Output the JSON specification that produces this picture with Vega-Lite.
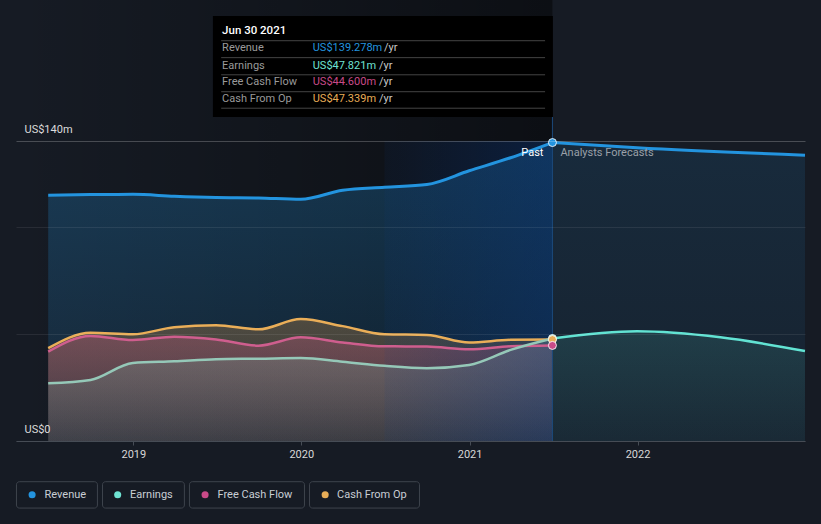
{
  "$schema": "https://vega.github.io/schema/vega-lite/v6.json",
  "width": 789,
  "height": 300,
  "autosize": {"type": "none"},
  "padding": {"left": 16, "top": 141, "right": 16, "bottom": 83},
  "background": "#161b24",
  "config": {"view": {"stroke": null}, "font": "Roboto"},
  "datasets": {
    "s": [
      {"date": "2018-06-30", "series": "Revenue", "phase": "past", "value": 114.7},
      {"date": "2018-09-30", "series": "Revenue", "phase": "past", "value": 115.0},
      {"date": "2018-12-31", "series": "Revenue", "phase": "past", "value": 115.1},
      {"date": "2019-03-31", "series": "Revenue", "phase": "past", "value": 114.2},
      {"date": "2019-06-30", "series": "Revenue", "phase": "past", "value": 113.6},
      {"date": "2019-09-30", "series": "Revenue", "phase": "past", "value": 113.4},
      {"date": "2019-12-31", "series": "Revenue", "phase": "past", "value": 112.8},
      {"date": "2020-03-31", "series": "Revenue", "phase": "past", "value": 117.0},
      {"date": "2020-06-30", "series": "Revenue", "phase": "past", "value": 118.4},
      {"date": "2020-09-30", "series": "Revenue", "phase": "past", "value": 119.7},
      {"date": "2020-12-31", "series": "Revenue", "phase": "past", "value": 126.1},
      {"date": "2021-03-31", "series": "Revenue", "phase": "past", "value": 132.2},
      {"date": "2021-06-30", "series": "Revenue", "phase": "past", "value": 139.278},
      {"date": "2021-06-30", "series": "Revenue", "phase": "forecast", "value": 139.278},
      {"date": "2021-12-31", "series": "Revenue", "phase": "forecast", "value": 136.9},
      {"date": "2022-12-31", "series": "Revenue", "phase": "forecast", "value": 133.4},
      {"date": "2018-06-30", "series": "Earnings", "phase": "past", "value": 26.9},
      {"date": "2018-09-30", "series": "Earnings", "phase": "past", "value": 28.5},
      {"date": "2018-12-31", "series": "Earnings", "phase": "past", "value": 36.4},
      {"date": "2019-03-31", "series": "Earnings", "phase": "past", "value": 37.2},
      {"date": "2019-06-30", "series": "Earnings", "phase": "past", "value": 38.2},
      {"date": "2019-09-30", "series": "Earnings", "phase": "past", "value": 38.4},
      {"date": "2019-12-31", "series": "Earnings", "phase": "past", "value": 38.7},
      {"date": "2020-03-31", "series": "Earnings", "phase": "past", "value": 37.0},
      {"date": "2020-06-30", "series": "Earnings", "phase": "past", "value": 35.1},
      {"date": "2020-09-30", "series": "Earnings", "phase": "past", "value": 34.0},
      {"date": "2020-12-31", "series": "Earnings", "phase": "past", "value": 35.5},
      {"date": "2021-03-31", "series": "Earnings", "phase": "past", "value": 42.5},
      {"date": "2021-06-30", "series": "Earnings", "phase": "past", "value": 47.821},
      {"date": "2021-06-30", "series": "Earnings", "phase": "forecast", "value": 47.821},
      {"date": "2021-12-31", "series": "Earnings", "phase": "forecast", "value": 51.2},
      {"date": "2022-06-30", "series": "Earnings", "phase": "forecast", "value": 48.4},
      {"date": "2022-12-31", "series": "Earnings", "phase": "forecast", "value": 42.0},
      {"date": "2018-06-30", "series": "Cash From Op", "phase": "past", "value": 43.3},
      {"date": "2018-09-30", "series": "Cash From Op", "phase": "past", "value": 50.5},
      {"date": "2018-12-31", "series": "Cash From Op", "phase": "past", "value": 49.8},
      {"date": "2019-03-31", "series": "Cash From Op", "phase": "past", "value": 53.1},
      {"date": "2019-06-30", "series": "Cash From Op", "phase": "past", "value": 54.0},
      {"date": "2019-09-30", "series": "Cash From Op", "phase": "past", "value": 52.1},
      {"date": "2019-12-31", "series": "Cash From Op", "phase": "past", "value": 56.9},
      {"date": "2020-03-31", "series": "Cash From Op", "phase": "past", "value": 53.6},
      {"date": "2020-06-30", "series": "Cash From Op", "phase": "past", "value": 49.8},
      {"date": "2020-09-30", "series": "Cash From Op", "phase": "past", "value": 49.5},
      {"date": "2020-12-31", "series": "Cash From Op", "phase": "past", "value": 46.0},
      {"date": "2021-03-31", "series": "Cash From Op", "phase": "past", "value": 47.2},
      {"date": "2021-06-30", "series": "Cash From Op", "phase": "past", "value": 47.339},
      {"date": "2018-06-30", "series": "Free Cash Flow", "phase": "past", "value": 41.7},
      {"date": "2018-09-30", "series": "Free Cash Flow", "phase": "past", "value": 49.0},
      {"date": "2018-12-31", "series": "Free Cash Flow", "phase": "past", "value": 47.1},
      {"date": "2019-03-31", "series": "Free Cash Flow", "phase": "past", "value": 48.7},
      {"date": "2019-06-30", "series": "Free Cash Flow", "phase": "past", "value": 47.4},
      {"date": "2019-09-30", "series": "Free Cash Flow", "phase": "past", "value": 44.5},
      {"date": "2019-12-31", "series": "Free Cash Flow", "phase": "past", "value": 48.4},
      {"date": "2020-03-31", "series": "Free Cash Flow", "phase": "past", "value": 46.0},
      {"date": "2020-06-30", "series": "Free Cash Flow", "phase": "past", "value": 44.2},
      {"date": "2020-09-30", "series": "Free Cash Flow", "phase": "past", "value": 44.1},
      {"date": "2020-12-31", "series": "Free Cash Flow", "phase": "past", "value": 42.8},
      {"date": "2021-03-31", "series": "Free Cash Flow", "phase": "past", "value": 44.2},
      {"date": "2021-06-30", "series": "Free Cash Flow", "phase": "past", "value": 44.6}
    ],
    "tt": [
      {"series": "Revenue", "label": "Revenue", "val": "US$139.278m", "date": "2019-07-13", "vdate": "2020-01-26", "ydate": "2020-06-29", "value": 183.4},
      {"series": "Earnings", "label": "Earnings", "val": "US$47.821m", "date": "2019-07-13", "vdate": "2020-01-26", "ydate": "2020-06-18", "value": 175.2},
      {"series": "Free Cash Flow", "label": "Free Cash Flow", "val": "US$44.600m", "date": "2019-07-13", "vdate": "2020-01-26", "ydate": "2020-06-18", "value": 167.4},
      {"series": "Cash From Op", "label": "Cash From Op", "val": "US$47.339m", "date": "2019-07-13", "vdate": "2020-01-26", "ydate": "2020-06-18", "value": 159.5}
    ],
    "sep": [
      {"date": "2019-07-11", "date2": "2021-06-14", "value": 186.8},
      {"date": "2019-07-11", "date2": "2021-06-14", "value": 178.9},
      {"date": "2019-07-11", "date2": "2021-06-14", "value": 170.9},
      {"date": "2019-07-11", "date2": "2021-06-14", "value": 163.0},
      {"date": "2019-07-11", "date2": "2021-06-14", "value": 155.3}
    ],
    "notes": [
      {"t": "Past", "date": "2021-06-30", "value": 134.4},
      {"t": "Analysts Forecasts", "date": "2021-06-30", "value": 134.4},
      {"t": "Jun 30 2021", "date": "2019-07-13", "value": 191.5}
    ],
    "leg": [
      {"series": "Revenue", "date": "2018-04-22", "date2": "2018-10-15", "sym": "2018-05-26", "lab": "2018-06-22", "value": -19.0, "value2": -31.3, "mid": -25.1},
      {"series": "Earnings", "date": "2018-10-26", "date2": "2019-04-22", "sym": "2018-11-28", "lab": "2018-12-25", "value": -19.0, "value2": -31.3, "mid": -25.1},
      {"series": "Free Cash Flow", "date": "2019-05-03", "date2": "2020-01-08", "sym": "2019-06-06", "lab": "2019-07-03", "value": -19.0, "value2": -31.3, "mid": -25.1},
      {"series": "Cash From Op", "date": "2020-01-19", "date2": "2020-09-14", "sym": "2020-02-22", "lab": "2020-03-19", "value": -19.0, "value2": -31.3, "mid": -25.1}
    ]
  },
  "encoding": {
    "x": {
      "field": "date", "type": "temporal",
      "scale": {"type": "utc", "domain": [{"year": 2018, "month": 4, "date": 21, "utc": true}, {"year": 2022, "month": 12, "date": 31, "utc": true}]},
      "axis": {
        "values": [{"year": 2019, "month": 1, "date": 1, "utc": true}, {"year": 2020, "month": 1, "date": 1, "utc": true}, {"year": 2021, "month": 1, "date": 1, "utc": true}, {"year": 2022, "month": 1, "date": 1, "utc": true}],
        "format": "%Y", "title": null, "grid": false,
        "domainColor": "#464c55", "tickColor": "#464c55", "tickSize": 4,
        "labelColor": "#d8d8d8", "labelFontSize": 11, "labelPadding": 3, "labelFont": "Roboto", "zindex": 1
      }
    },
    "y": {
      "field": "value", "type": "quantitative",
      "scale": {"domain": [0, 140], "nice": false, "zero": false},
      "axis": {
        "values": [0, 50, 100, 140], "title": null, "grid": true,
        "gridColor": "#ffffff",
        "gridOpacity": {"condition": {"test": "datum.value === 140", "value": 0.22}, "value": 0.08},
        "domain": false, "ticks": false, "tickSize": 0,
        "labelAlign": "left", "labelBaseline": "middle", "labelPadding": -8, "labelOffset": -12,
        "labelExpr": "datum.value === 140 ? 'US$140m' : (datum.value === 0 ? 'US$0' : '')",
        "labelColor": "#dcdcdc", "labelFontSize": 11, "labelFont": "Roboto", "zindex": 1
      }
    }
  },
  "layer": [
    {
      "data": {"values": [{"date": "2018-04-21", "date2": "2021-06-30", "value": 0, "value2": 215}]},
      "mark": {"type": "rect", "color": {"gradient": "linear", "x1": 0, "y1": 0, "x2": 1, "y2": 0, "stops": [{"offset": 0, "color": "rgba(0,0,0,0)"}, {"offset": 1, "color": "rgba(0,0,0,0.45)"}]}},
      "encoding": {"x2": {"field": "date2"}, "y2": {"field": "value2"}}
    },
    {
      "data": {"name": "s"},
      "transform": [{"filter": "datum.series === 'Revenue' && datum.phase === 'past'"}],
      "mark": {"type": "area", "interpolate": "monotone", "color": {"gradient": "linear", "x1": 0, "y1": 0, "x2": 0, "y2": 1, "stops": [{"offset": 0, "color": "rgba(35,148,223,0.27)"}, {"offset": 1, "color": "rgba(35,148,223,0.10)"}]}}
    },
    {
      "data": {"name": "s"},
      "transform": [{"filter": "datum.series === 'Revenue' && datum.phase === 'forecast'"}],
      "mark": {"type": "area", "interpolate": "monotone", "color": {"gradient": "linear", "x1": 0, "y1": 0, "x2": 0, "y2": 1, "stops": [{"offset": 0, "color": "rgba(35,148,223,0.13)"}, {"offset": 1, "color": "rgba(35,148,223,0.06)"}]}}
    },
    {
      "data": {"name": "s"},
      "transform": [{"filter": "datum.series === 'Cash From Op'"}],
      "mark": {"type": "area", "interpolate": "monotone", "color": {"gradient": "linear", "x1": 0, "y1": 0, "x2": 0, "y2": 1, "stops": [{"offset": 0, "color": "rgba(200,140,70,0.33)"}, {"offset": 1, "color": "rgba(200,140,70,0.10)"}]}}
    },
    {
      "data": {"name": "s"},
      "transform": [{"filter": "datum.series === 'Free Cash Flow'"}],
      "mark": {"type": "area", "interpolate": "monotone", "color": {"gradient": "linear", "x1": 0, "y1": 0, "x2": 0, "y2": 1, "stops": [{"offset": 0, "color": "rgba(190,85,125,0.33)"}, {"offset": 1, "color": "rgba(190,85,125,0.10)"}]}}
    },
    {
      "data": {"name": "s"},
      "transform": [{"filter": "datum.series === 'Earnings' && datum.phase === 'past'"}],
      "mark": {"type": "area", "interpolate": "monotone", "color": {"gradient": "linear", "x1": 0, "y1": 0, "x2": 0, "y2": 1, "stops": [{"offset": 0, "color": "rgba(125,170,160,0.30)"}, {"offset": 1, "color": "rgba(125,170,160,0.10)"}]}}
    },
    {
      "data": {"name": "s"},
      "transform": [{"filter": "datum.series === 'Earnings' && datum.phase === 'forecast'"}],
      "mark": {"type": "area", "interpolate": "monotone", "color": {"gradient": "linear", "x1": 0, "y1": 0, "x2": 0, "y2": 1, "stops": [{"offset": 0, "color": "rgba(95,227,210,0.13)"}, {"offset": 1, "color": "rgba(95,227,210,0.04)"}]}}
    },
    {
      "data": {"values": [{"date": "2020-06-30", "date2": "2021-06-30", "value": 0, "value2": 140}]},
      "mark": {"type": "rect", "color": {"gradient": "linear", "x1": 0, "y1": 0, "x2": 1, "y2": 0, "stops": [{"offset": 0, "color": "rgba(10,60,140,0.08)"}, {"offset": 1, "color": "rgba(10,60,140,0.35)"}]}},
      "encoding": {"x2": {"field": "date2"}, "y2": {"field": "value2"}}
    },
    {
      "data": {"values": [{"date": "2021-06-30", "value": 0, "value2": 151.2}]},
      "mark": {"type": "rule", "color": "#1c4a7c", "strokeWidth": 1},
      "encoding": {"y2": {"field": "value2"}}
    },
    {
      "data": {"name": "s"},
      "transform": [{"filter": "datum.series === 'Cash From Op'"}],
      "mark": {"type": "line", "interpolate": "monotone", "color": "#eaae58", "strokeWidth": 2.5}
    },
    {
      "data": {"name": "s"},
      "transform": [{"filter": "datum.series === 'Free Cash Flow'"}],
      "mark": {"type": "line", "interpolate": "monotone", "color": "#cf5e8e", "strokeWidth": 2.5}
    },
    {
      "data": {"name": "s"},
      "transform": [{"filter": "datum.series === 'Earnings' && datum.phase === 'past'"}],
      "mark": {"type": "line", "interpolate": "monotone", "color": "#95c8b8", "strokeWidth": 2.5}
    },
    {
      "data": {"name": "s"},
      "transform": [{"filter": "datum.series === 'Earnings' && datum.phase === 'forecast'"}],
      "mark": {"type": "line", "interpolate": "monotone", "color": "#62e3d3", "strokeWidth": 2.5}
    },
    {
      "data": {"name": "s"},
      "transform": [{"filter": "datum.series === 'Revenue'"}],
      "mark": {"type": "line", "interpolate": "monotone", "color": "#2394df", "strokeWidth": 3},
      "encoding": {"detail": {"field": "phase"}}
    },
    {
      "data": {"name": "s"},
      "transform": [{"filter": "datum.phase === 'past' && utcyear(datum.date) === 2021 && utcmonth(datum.date) === 5 && utcdate(datum.date) === 30"}],
      "mark": {"type": "point", "filled": true, "size": 64, "stroke": "#ffffff", "strokeWidth": 1, "strokeOpacity": 0.85, "opacity": 1},
      "encoding": {
        "color": {"field": "series", "type": "nominal", "scale": {"domain": ["Revenue", "Earnings", "Free Cash Flow", "Cash From Op"], "range": ["#2394df", "#6fe3d3", "#c94a88", "#e8ad57"]}, "legend": null}
      }
    },
    {
      "data": {"name": "notes"},
      "transform": [{"filter": "datum.t === 'Past'"}],
      "mark": {"type": "text", "align": "right", "baseline": "middle", "dx": -9, "fontSize": 11, "color": "#ffffff", "font": "Roboto"},
      "encoding": {"text": {"field": "t"}}
    },
    {
      "data": {"name": "notes"},
      "transform": [{"filter": "datum.t === 'Analysts Forecasts'"}],
      "mark": {"type": "text", "align": "left", "baseline": "middle", "dx": 8, "fontSize": 11, "color": "#9aa0a8", "font": "Roboto"},
      "encoding": {"text": {"field": "t"}}
    },
    {
      "data": {"values": [{"date": "2019-06-23", "date2": "2021-07-01", "value": 151.2, "value2": 198.3}]},
      "mark": {"type": "rect", "color": "#000000"},
      "encoding": {"x2": {"field": "date2"}, "y2": {"field": "value2"}}
    },
    {
      "data": {"name": "sep"},
      "mark": {"type": "rule", "color": "#444444", "strokeWidth": 1},
      "encoding": {"x2": {"field": "date2"}}
    },
    {
      "data": {"name": "notes"},
      "transform": [{"filter": "datum.t === 'Jun 30 2021'"}],
      "mark": {"type": "text", "align": "left", "baseline": "middle", "fontSize": 11.5, "fontWeight": 500, "color": "#ffffff", "font": "Roboto"},
      "encoding": {"text": {"field": "t"}}
    },
    {
      "data": {"name": "tt"},
      "mark": {"type": "text", "align": "left", "baseline": "middle", "fontSize": 11, "color": "#9a9a9a", "font": "Roboto"},
      "encoding": {"text": {"field": "label"}}
    },
    {
      "data": {"name": "tt"},
      "mark": {"type": "text", "align": "left", "baseline": "middle", "fontSize": 11, "font": "Roboto"},
      "encoding": {
        "x": {"field": "vdate", "type": "temporal"},
        "text": {"field": "val"},
        "color": {"field": "series", "type": "nominal", "legend": null}
      }
    },
    {
      "data": {"name": "tt"},
      "mark": {"type": "text", "align": "left", "baseline": "middle", "fontSize": 11, "color": "#c8c8c8", "font": "Roboto"},
      "encoding": {"x": {"field": "ydate", "type": "temporal"}, "text": {"value": "/yr"}}
    },
    {
      "data": {"name": "leg"},
      "mark": {"type": "rect", "fillOpacity": 0, "fill": "#161b24", "stroke": "#3e444d", "strokeWidth": 1, "cornerRadius": 3},
      "encoding": {"x2": {"field": "date2"}, "y2": {"field": "value2"}}
    },
    {
      "data": {"name": "leg"},
      "mark": {"type": "point", "filled": true, "size": 50, "opacity": 1},
      "encoding": {
        "x": {"field": "sym", "type": "temporal"},
        "y": {"field": "mid", "type": "quantitative"},
        "color": {"field": "series", "type": "nominal", "legend": null}
      }
    },
    {
      "data": {"name": "leg"},
      "mark": {"type": "text", "align": "left", "baseline": "middle", "fontSize": 11, "color": "#c9ced4", "font": "Roboto"},
      "encoding": {
        "x": {"field": "lab", "type": "temporal"},
        "y": {"field": "mid", "type": "quantitative"},
        "text": {"field": "series"}
      }
    }
  ]
}
